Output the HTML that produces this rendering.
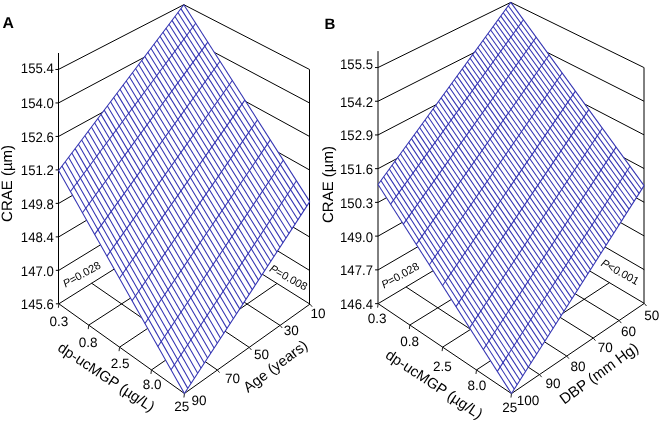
<!DOCTYPE html>
<html><head><meta charset="utf-8"><style>
html,body{margin:0;padding:0;background:#fff;}
body{width:660px;height:422px;overflow:hidden;}
svg{display:block;will-change:transform;text-rendering:geometricPrecision;font-family:"Liberation Sans",sans-serif;}
.k{stroke:#000;stroke-width:1;}
.t{stroke:#222;stroke-width:1;}
.b{stroke:#3232b2;stroke-width:1.05;}
.s{fill:#fff;stroke:none;}
text{fill:#000;}
</style></head><body>
<svg width="660" height="422" viewBox="0 0 660 422">
<line class="k" x1="58.87" y1="303.81" x2="184.22" y2="225.17"/>
<line class="k" x1="184.22" y1="225.17" x2="309.94" y2="304.13"/>
<line class="k" x1="58.8" y1="270.34" x2="184.17" y2="193.68"/>
<line class="k" x1="184.17" y1="193.68" x2="309.88" y2="270.62"/>
<line class="k" x1="58.74" y1="236.87" x2="184.11" y2="162.19"/>
<line class="k" x1="184.11" y1="162.19" x2="309.83" y2="237.1"/>
<line class="k" x1="58.67" y1="203.39" x2="184.05" y2="130.7"/>
<line class="k" x1="184.05" y1="130.7" x2="309.77" y2="203.58"/>
<line class="k" x1="58.61" y1="169.91" x2="184" y2="99.2"/>
<line class="k" x1="184" y1="99.2" x2="309.71" y2="170.06"/>
<line class="k" x1="58.54" y1="136.43" x2="183.94" y2="67.7"/>
<line class="k" x1="183.94" y1="67.7" x2="309.66" y2="136.53"/>
<line class="k" x1="58.48" y1="102.95" x2="183.88" y2="36.2"/>
<line class="k" x1="183.88" y1="36.2" x2="309.6" y2="103"/>
<line class="k" x1="58.41" y1="69.46" x2="183.83" y2="4.7"/>
<line class="k" x1="183.83" y1="4.7" x2="309.55" y2="69.47"/>
<line class="k" x1="184.22" y1="225.17" x2="183.83" y2="4.7"/>
<line class="k" x1="58.87" y1="303.81" x2="184.43" y2="393.49"/>
<line class="k" x1="184.43" y1="393.49" x2="309.94" y2="304.13"/>
<line class="k" x1="88.72" y1="325.13" x2="214.2" y2="244"/>
<line class="k" x1="119.56" y1="347.16" x2="245.12" y2="263.42"/>
<line class="k" x1="151.45" y1="369.94" x2="277.01" y2="283.45"/>
<line class="k" x1="91.66" y1="283.24" x2="217.36" y2="370.04"/>
<line class="k" x1="123.46" y1="263.29" x2="249.23" y2="347.36"/>
<line class="k" x1="154.3" y1="243.95" x2="280.07" y2="325.4"/>
<line class="k" x1="309.5" y1="304.13" x2="309.5" y2="69.47"/>
<line class="k" x1="58.5" y1="303.81" x2="58.5" y2="53"/>
<line class="k" x1="55.87" y1="303.81" x2="58.87" y2="303.81"/>
<line class="k" x1="55.8" y1="270.34" x2="58.8" y2="270.34"/>
<line class="k" x1="55.74" y1="236.87" x2="58.74" y2="236.87"/>
<line class="k" x1="55.67" y1="203.39" x2="58.67" y2="203.39"/>
<line class="k" x1="55.61" y1="169.91" x2="58.61" y2="169.91"/>
<line class="k" x1="55.54" y1="136.43" x2="58.54" y2="136.43"/>
<line class="k" x1="55.48" y1="102.95" x2="58.48" y2="102.95"/>
<line class="k" x1="55.41" y1="69.46" x2="58.41" y2="69.46"/>
<line class="t" x1="58.87" y1="303.81" x2="58.37" y2="307.81"/>
<line class="t" x1="88.72" y1="325.13" x2="88.22" y2="329.13"/>
<line class="t" x1="119.56" y1="347.16" x2="119.06" y2="351.16"/>
<line class="t" x1="151.45" y1="369.94" x2="150.95" y2="373.94"/>
<line class="t" x1="184.43" y1="393.49" x2="183.93" y2="397.49"/>
<line class="t" x1="217.36" y1="370.04" x2="219.56" y2="372.64"/>
<line class="t" x1="249.23" y1="347.36" x2="251.43" y2="349.96"/>
<line class="t" x1="280.07" y1="325.4" x2="282.27" y2="328"/>
<line class="t" x1="309.94" y1="304.13" x2="312.14" y2="306.73"/>
<polygon class="s" points="58.61,170.48 184.43,393.49 309.77,201.6 183.83,4.7"/>
<line class="b" x1="58.61" y1="170.48" x2="183.83" y2="4.7"/>
<line class="b" x1="70.46" y1="191.48" x2="195.73" y2="23.31"/>
<line class="b" x1="82.46" y1="212.76" x2="207.78" y2="42.15"/>
<line class="b" x1="94.62" y1="234.32" x2="219.98" y2="61.23"/>
<line class="b" x1="106.95" y1="256.16" x2="232.33" y2="80.54"/>
<line class="b" x1="119.43" y1="278.29" x2="244.84" y2="100.08"/>
<line class="b" x1="132.08" y1="300.71" x2="257.5" y2="119.88"/>
<line class="b" x1="144.91" y1="323.44" x2="270.32" y2="139.92"/>
<line class="b" x1="157.9" y1="346.47" x2="283.3" y2="160.22"/>
<line class="b" x1="171.07" y1="369.82" x2="296.45" y2="180.78"/>
<line class="b" x1="184.43" y1="393.49" x2="309.77" y2="201.6"/>
<line class="b" x1="58.61" y1="170.48" x2="184.43" y2="393.49"/>
<line class="b" x1="61.93" y1="166.08" x2="187.77" y2="388.38"/>
<line class="b" x1="65.24" y1="161.7" x2="191.09" y2="383.29"/>
<line class="b" x1="68.54" y1="157.33" x2="194.41" y2="378.21"/>
<line class="b" x1="71.83" y1="152.97" x2="197.71" y2="373.15"/>
<line class="b" x1="75.12" y1="148.63" x2="201.01" y2="368.11"/>
<line class="b" x1="78.39" y1="144.3" x2="204.29" y2="363.08"/>
<line class="b" x1="81.65" y1="139.98" x2="207.56" y2="358.07"/>
<line class="b" x1="84.9" y1="135.68" x2="210.83" y2="353.08"/>
<line class="b" x1="88.14" y1="131.39" x2="214.08" y2="348.1"/>
<line class="b" x1="91.37" y1="127.11" x2="217.32" y2="343.14"/>
<line class="b" x1="94.59" y1="122.85" x2="220.54" y2="338.2"/>
<line class="b" x1="97.8" y1="118.6" x2="223.76" y2="333.27"/>
<line class="b" x1="101" y1="114.36" x2="226.97" y2="328.36"/>
<line class="b" x1="104.19" y1="110.14" x2="230.17" y2="323.46"/>
<line class="b" x1="107.37" y1="105.92" x2="233.36" y2="318.58"/>
<line class="b" x1="110.54" y1="101.73" x2="236.53" y2="313.72"/>
<line class="b" x1="113.7" y1="97.54" x2="239.7" y2="308.87"/>
<line class="b" x1="116.85" y1="93.37" x2="242.85" y2="304.04"/>
<line class="b" x1="119.99" y1="89.21" x2="246" y2="299.23"/>
<line class="b" x1="123.13" y1="85.06" x2="249.13" y2="294.43"/>
<line class="b" x1="126.25" y1="80.93" x2="252.26" y2="289.64"/>
<line class="b" x1="129.36" y1="76.81" x2="255.37" y2="284.87"/>
<line class="b" x1="132.47" y1="72.7" x2="258.48" y2="280.12"/>
<line class="b" x1="135.56" y1="68.6" x2="261.57" y2="275.38"/>
<line class="b" x1="138.65" y1="64.52" x2="264.66" y2="270.66"/>
<line class="b" x1="141.72" y1="60.44" x2="267.73" y2="265.95"/>
<line class="b" x1="144.79" y1="56.38" x2="270.8" y2="261.26"/>
<line class="b" x1="147.85" y1="52.34" x2="273.85" y2="256.58"/>
<line class="b" x1="150.89" y1="48.3" x2="276.9" y2="251.92"/>
<line class="b" x1="153.93" y1="44.28" x2="279.94" y2="247.27"/>
<line class="b" x1="156.96" y1="40.27" x2="282.96" y2="242.64"/>
<line class="b" x1="159.98" y1="36.27" x2="285.98" y2="238.02"/>
<line class="b" x1="162.99" y1="32.28" x2="288.98" y2="233.42"/>
<line class="b" x1="166" y1="28.3" x2="291.98" y2="228.83"/>
<line class="b" x1="168.99" y1="24.34" x2="294.97" y2="224.25"/>
<line class="b" x1="171.98" y1="20.39" x2="297.95" y2="219.7"/>
<line class="b" x1="174.95" y1="16.45" x2="300.92" y2="215.15"/>
<line class="b" x1="177.92" y1="12.52" x2="303.88" y2="210.62"/>
<line class="b" x1="180.88" y1="8.61" x2="306.83" y2="206.1"/>
<line class="b" x1="183.83" y1="4.7" x2="309.77" y2="201.6"/>
<line class="k" x1="378.11" y1="303.63" x2="511.06" y2="224.21"/>
<line class="k" x1="511.06" y1="224.21" x2="644.31" y2="303.4"/>
<line class="k" x1="378.1" y1="269.87" x2="511.02" y2="192.49"/>
<line class="k" x1="511.02" y1="192.49" x2="644.24" y2="269.66"/>
<line class="k" x1="378.08" y1="236.12" x2="510.99" y2="160.78"/>
<line class="k" x1="510.99" y1="160.78" x2="644.18" y2="235.94"/>
<line class="k" x1="378.06" y1="202.38" x2="510.95" y2="129.08"/>
<line class="k" x1="510.95" y1="129.08" x2="644.11" y2="202.22"/>
<line class="k" x1="378.05" y1="168.66" x2="510.91" y2="97.39"/>
<line class="k" x1="510.91" y1="97.39" x2="644.05" y2="168.52"/>
<line class="k" x1="378.03" y1="134.94" x2="510.87" y2="65.71"/>
<line class="k" x1="510.87" y1="65.71" x2="643.98" y2="134.83"/>
<line class="k" x1="378.01" y1="101.24" x2="510.83" y2="34.04"/>
<line class="k" x1="510.83" y1="34.04" x2="643.92" y2="101.16"/>
<line class="k" x1="377.99" y1="67.55" x2="510.79" y2="2.39"/>
<line class="k" x1="510.79" y1="2.39" x2="643.85" y2="67.49"/>
<line class="k" x1="511.06" y1="224.21" x2="510.79" y2="2.39"/>
<line class="k" x1="378.11" y1="303.63" x2="511.48" y2="393.57"/>
<line class="k" x1="511.48" y1="393.57" x2="644.31" y2="303.4"/>
<line class="k" x1="409.85" y1="325.03" x2="542.87" y2="243.12"/>
<line class="k" x1="442.62" y1="347.13" x2="575.65" y2="262.6"/>
<line class="k" x1="476.48" y1="369.96" x2="609.45" y2="282.68"/>
<line class="k" x1="406.04" y1="286.95" x2="539.48" y2="374.56"/>
<line class="k" x1="433.28" y1="270.68" x2="566.73" y2="356.06"/>
<line class="k" x1="459.84" y1="254.81" x2="593.27" y2="338.05"/>
<line class="k" x1="485.76" y1="239.33" x2="619.12" y2="320.5"/>
<line class="k" x1="644" y1="303.4" x2="644" y2="67.49"/>
<line class="k" x1="378" y1="303.63" x2="378" y2="51.1"/>
<line class="k" x1="375.11" y1="303.63" x2="378.11" y2="303.63"/>
<line class="k" x1="375.1" y1="269.87" x2="378.1" y2="269.87"/>
<line class="k" x1="375.08" y1="236.12" x2="378.08" y2="236.12"/>
<line class="k" x1="375.06" y1="202.38" x2="378.06" y2="202.38"/>
<line class="k" x1="375.05" y1="168.66" x2="378.05" y2="168.66"/>
<line class="k" x1="375.03" y1="134.94" x2="378.03" y2="134.94"/>
<line class="k" x1="375.01" y1="101.24" x2="378.01" y2="101.24"/>
<line class="k" x1="374.99" y1="67.55" x2="377.99" y2="67.55"/>
<line class="t" x1="378.11" y1="303.63" x2="377.61" y2="307.63"/>
<line class="t" x1="409.85" y1="325.03" x2="409.35" y2="329.03"/>
<line class="t" x1="442.62" y1="347.13" x2="442.12" y2="351.13"/>
<line class="t" x1="476.48" y1="369.96" x2="475.98" y2="373.96"/>
<line class="t" x1="511.48" y1="393.57" x2="510.98" y2="397.57"/>
<line class="t" x1="539.48" y1="374.56" x2="541.68" y2="377.16"/>
<line class="t" x1="566.73" y1="356.06" x2="568.93" y2="358.66"/>
<line class="t" x1="593.27" y1="338.05" x2="595.47" y2="340.65"/>
<line class="t" x1="619.12" y1="320.5" x2="621.32" y2="323.1"/>
<line class="t" x1="644.31" y1="303.4" x2="646.51" y2="306"/>
<polygon class="s" points="378.05,184.45 511.48,393.57 644.08,185.61 510.79,2.39"/>
<line class="b" x1="378.05" y1="184.45" x2="510.79" y2="2.39"/>
<line class="b" x1="390.63" y1="204.16" x2="523.4" y2="19.71"/>
<line class="b" x1="403.36" y1="224.12" x2="536.16" y2="37.25"/>
<line class="b" x1="416.26" y1="244.33" x2="549.07" y2="55.01"/>
<line class="b" x1="429.33" y1="264.82" x2="562.15" y2="72.98"/>
<line class="b" x1="442.57" y1="285.57" x2="575.38" y2="91.17"/>
<line class="b" x1="455.99" y1="306.6" x2="588.78" y2="109.59"/>
<line class="b" x1="469.58" y1="327.9" x2="602.35" y2="128.24"/>
<line class="b" x1="483.36" y1="349.5" x2="616.08" y2="147.12"/>
<line class="b" x1="497.33" y1="371.38" x2="629.99" y2="166.24"/>
<line class="b" x1="511.48" y1="393.57" x2="644.08" y2="185.61"/>
<line class="b" x1="378.05" y1="184.45" x2="511.48" y2="393.57"/>
<line class="b" x1="380.88" y1="180.58" x2="514.31" y2="389.13"/>
<line class="b" x1="383.69" y1="176.72" x2="517.14" y2="384.7"/>
<line class="b" x1="386.5" y1="172.87" x2="519.95" y2="380.28"/>
<line class="b" x1="389.3" y1="169.03" x2="522.76" y2="375.88"/>
<line class="b" x1="392.09" y1="165.2" x2="525.56" y2="371.49"/>
<line class="b" x1="394.88" y1="161.38" x2="528.35" y2="367.11"/>
<line class="b" x1="397.66" y1="157.56" x2="531.13" y2="362.74"/>
<line class="b" x1="400.43" y1="153.76" x2="533.91" y2="358.39"/>
<line class="b" x1="403.19" y1="149.97" x2="536.68" y2="354.05"/>
<line class="b" x1="405.95" y1="146.19" x2="539.44" y2="349.71"/>
<line class="b" x1="408.7" y1="142.41" x2="542.2" y2="345.39"/>
<line class="b" x1="411.45" y1="138.65" x2="544.94" y2="341.09"/>
<line class="b" x1="414.18" y1="134.9" x2="547.68" y2="336.79"/>
<line class="b" x1="416.91" y1="131.15" x2="550.42" y2="332.51"/>
<line class="b" x1="419.64" y1="127.42" x2="553.14" y2="328.23"/>
<line class="b" x1="422.35" y1="123.69" x2="555.86" y2="323.97"/>
<line class="b" x1="425.06" y1="119.97" x2="558.57" y2="319.72"/>
<line class="b" x1="427.77" y1="116.27" x2="561.27" y2="315.48"/>
<line class="b" x1="430.46" y1="112.57" x2="563.97" y2="311.25"/>
<line class="b" x1="433.15" y1="108.88" x2="566.65" y2="307.04"/>
<line class="b" x1="435.83" y1="105.2" x2="569.34" y2="302.83"/>
<line class="b" x1="438.51" y1="101.53" x2="572.01" y2="298.64"/>
<line class="b" x1="441.18" y1="97.87" x2="574.68" y2="294.46"/>
<line class="b" x1="443.84" y1="94.22" x2="577.34" y2="290.29"/>
<line class="b" x1="446.49" y1="90.58" x2="579.99" y2="286.13"/>
<line class="b" x1="449.14" y1="86.94" x2="582.63" y2="281.98"/>
<line class="b" x1="451.79" y1="83.32" x2="585.27" y2="277.84"/>
<line class="b" x1="454.42" y1="79.71" x2="587.9" y2="273.71"/>
<line class="b" x1="457.05" y1="76.1" x2="590.53" y2="269.6"/>
<line class="b" x1="459.67" y1="72.5" x2="593.15" y2="265.49"/>
<line class="b" x1="462.29" y1="68.91" x2="595.76" y2="261.4"/>
<line class="b" x1="464.9" y1="65.33" x2="598.36" y2="257.31"/>
<line class="b" x1="467.5" y1="61.76" x2="600.96" y2="253.24"/>
<line class="b" x1="470.1" y1="58.2" x2="603.55" y2="249.18"/>
<line class="b" x1="472.69" y1="54.65" x2="606.13" y2="245.13"/>
<line class="b" x1="475.27" y1="51.1" x2="608.71" y2="241.09"/>
<line class="b" x1="477.85" y1="47.57" x2="611.28" y2="237.06"/>
<line class="b" x1="480.42" y1="44.04" x2="613.84" y2="233.04"/>
<line class="b" x1="482.99" y1="40.52" x2="616.4" y2="229.03"/>
<line class="b" x1="485.55" y1="37.01" x2="618.95" y2="225.03"/>
<line class="b" x1="488.1" y1="33.51" x2="621.49" y2="221.04"/>
<line class="b" x1="490.65" y1="30.02" x2="624.03" y2="217.06"/>
<line class="b" x1="493.19" y1="26.54" x2="626.56" y2="213.09"/>
<line class="b" x1="495.72" y1="23.06" x2="629.08" y2="209.14"/>
<line class="b" x1="498.25" y1="19.59" x2="631.6" y2="205.19"/>
<line class="b" x1="500.77" y1="16.14" x2="634.11" y2="201.25"/>
<line class="b" x1="503.28" y1="12.69" x2="636.61" y2="197.33"/>
<line class="b" x1="505.79" y1="9.24" x2="639.11" y2="193.41"/>
<line class="b" x1="508.3" y1="5.81" x2="641.6" y2="189.5"/>
<line class="b" x1="510.79" y1="2.39" x2="644.08" y2="185.61"/>
<text x="2.6" y="27.8" font-size="15.8" font-weight="bold" text-rendering="geometricPrecision">A</text>
<text x="324.5" y="29" font-size="15" text-anchor="start" dominant-baseline="alphabetic" font-weight="bold">B</text>
<text transform="translate(53.8 304.31) scale(0.94 1)" font-size="14" text-anchor="end" dominant-baseline="central">145.6</text>
<text transform="translate(373 304.13) scale(0.94 1)" font-size="14" text-anchor="end" dominant-baseline="central">146.4</text>
<text transform="translate(53.8 270.84) scale(0.94 1)" font-size="14" text-anchor="end" dominant-baseline="central">147.0</text>
<text transform="translate(373 270.37) scale(0.94 1)" font-size="14" text-anchor="end" dominant-baseline="central">147.7</text>
<text transform="translate(53.8 237.37) scale(0.94 1)" font-size="14" text-anchor="end" dominant-baseline="central">148.4</text>
<text transform="translate(373 236.62) scale(0.94 1)" font-size="14" text-anchor="end" dominant-baseline="central">149.0</text>
<text transform="translate(53.8 203.89) scale(0.94 1)" font-size="14" text-anchor="end" dominant-baseline="central">149.8</text>
<text transform="translate(373 202.88) scale(0.94 1)" font-size="14" text-anchor="end" dominant-baseline="central">150.3</text>
<text transform="translate(53.8 170.41) scale(0.94 1)" font-size="14" text-anchor="end" dominant-baseline="central">151.2</text>
<text transform="translate(373 169.16) scale(0.94 1)" font-size="14" text-anchor="end" dominant-baseline="central">151.6</text>
<text transform="translate(53.8 136.93) scale(0.94 1)" font-size="14" text-anchor="end" dominant-baseline="central">152.6</text>
<text transform="translate(373 135.44) scale(0.94 1)" font-size="14" text-anchor="end" dominant-baseline="central">152.9</text>
<text transform="translate(53.8 103.45) scale(0.94 1)" font-size="14" text-anchor="end" dominant-baseline="central">154.0</text>
<text transform="translate(373 101.74) scale(0.94 1)" font-size="14" text-anchor="end" dominant-baseline="central">154.2</text>
<text transform="translate(53.8 68.46) scale(0.94 1)" font-size="14" text-anchor="end" dominant-baseline="central">155.4</text>
<text transform="translate(373 64.45) scale(0.94 1)" font-size="14" text-anchor="end" dominant-baseline="central">155.5</text>
<text x="7.1" y="183.4" font-size="15" text-anchor="middle" dominant-baseline="central" transform="rotate(-90 7.1 183.4)">CRAE (µm)</text>
<text x="328.4" y="184.5" font-size="15" text-anchor="middle" dominant-baseline="central" transform="rotate(-90 328.4 184.5)">CRAE (µm)</text>
<text x="59" y="321.8" font-size="13.5" text-anchor="middle" dominant-baseline="central">0.3</text>
<text x="88.1" y="342" font-size="13.5" text-anchor="middle" dominant-baseline="central">0.8</text>
<text x="120.1" y="363.1" font-size="13.5" text-anchor="middle" dominant-baseline="central">2.5</text>
<text x="152.1" y="384.7" font-size="13.5" text-anchor="middle" dominant-baseline="central">8.0</text>
<text x="181.7" y="406" font-size="13.5" text-anchor="middle" dominant-baseline="central">25</text>
<text x="199.1" y="400.1" font-size="13.5" text-anchor="middle" dominant-baseline="central">90</text>
<text x="232.6" y="378.4" font-size="13.5" text-anchor="middle" dominant-baseline="central">70</text>
<text x="261.4" y="354.9" font-size="13.5" text-anchor="middle" dominant-baseline="central">50</text>
<text x="291.2" y="330.6" font-size="13.5" text-anchor="middle" dominant-baseline="central">30</text>
<text x="318" y="313" font-size="13.5" text-anchor="middle" dominant-baseline="central">10</text>
<text x="377.1" y="318.5" font-size="13.5" text-anchor="middle" dominant-baseline="central">0.3</text>
<text x="409.7" y="341.6" font-size="13.5" text-anchor="middle" dominant-baseline="central">0.8</text>
<text x="442.3" y="366.1" font-size="13.5" text-anchor="middle" dominant-baseline="central">2.5</text>
<text x="476.8" y="385.5" font-size="13.5" text-anchor="middle" dominant-baseline="central">8.0</text>
<text x="509.8" y="407.1" font-size="13.5" text-anchor="middle" dominant-baseline="central">25</text>
<text x="528" y="400.4" font-size="13.5" text-anchor="middle" dominant-baseline="central">100</text>
<text x="553" y="383" font-size="13.5" text-anchor="middle" dominant-baseline="central">90</text>
<text x="578" y="366.6" font-size="13.5" text-anchor="middle" dominant-baseline="central">80</text>
<text x="605.3" y="347.5" font-size="13.5" text-anchor="middle" dominant-baseline="central">70</text>
<text x="628.6" y="331.4" font-size="13.5" text-anchor="middle" dominant-baseline="central">60</text>
<text x="651.7" y="315.8" font-size="13.5" text-anchor="middle" dominant-baseline="central">50</text>
<text x="105.9" y="377.9" font-size="14.7" text-anchor="middle" dominant-baseline="central" transform="rotate(33.5 105.9 377.9)">dp-ucMGP (µg/L)</text>
<text x="276" y="367" font-size="14.7" text-anchor="middle" dominant-baseline="central" transform="rotate(-37 276 367)">Age (years)</text>
<text x="433.7" y="385" font-size="14.7" text-anchor="middle" dominant-baseline="central" transform="rotate(33.5 433.7 385)">dp-ucMGP (µg/L)</text>
<text x="599.3" y="373.8" font-size="15" text-anchor="middle" dominant-baseline="central" transform="rotate(-36 599.3 373.8)">DBP (mm Hg)</text>
<text x="82.1" y="275" font-size="11" text-anchor="middle" dominant-baseline="central" transform="rotate(-29 82.1 275)"><tspan font-style="italic">P</tspan>=0.028</text>
<text x="288.2" y="278.2" font-size="11" text-anchor="middle" dominant-baseline="central" transform="rotate(29 288.2 278.2)"><tspan font-style="italic">P</tspan>=0.008</text>
<text x="400.5" y="276" font-size="11" text-anchor="middle" dominant-baseline="central" transform="rotate(-29 400.5 276)"><tspan font-style="italic">P</tspan>=0.028</text>
<text x="619.7" y="272.6" font-size="11" text-anchor="middle" dominant-baseline="central" transform="rotate(29 619.7 272.6)"><tspan font-style="italic">P</tspan>&lt;0.001</text>
</svg>
</body></html>
